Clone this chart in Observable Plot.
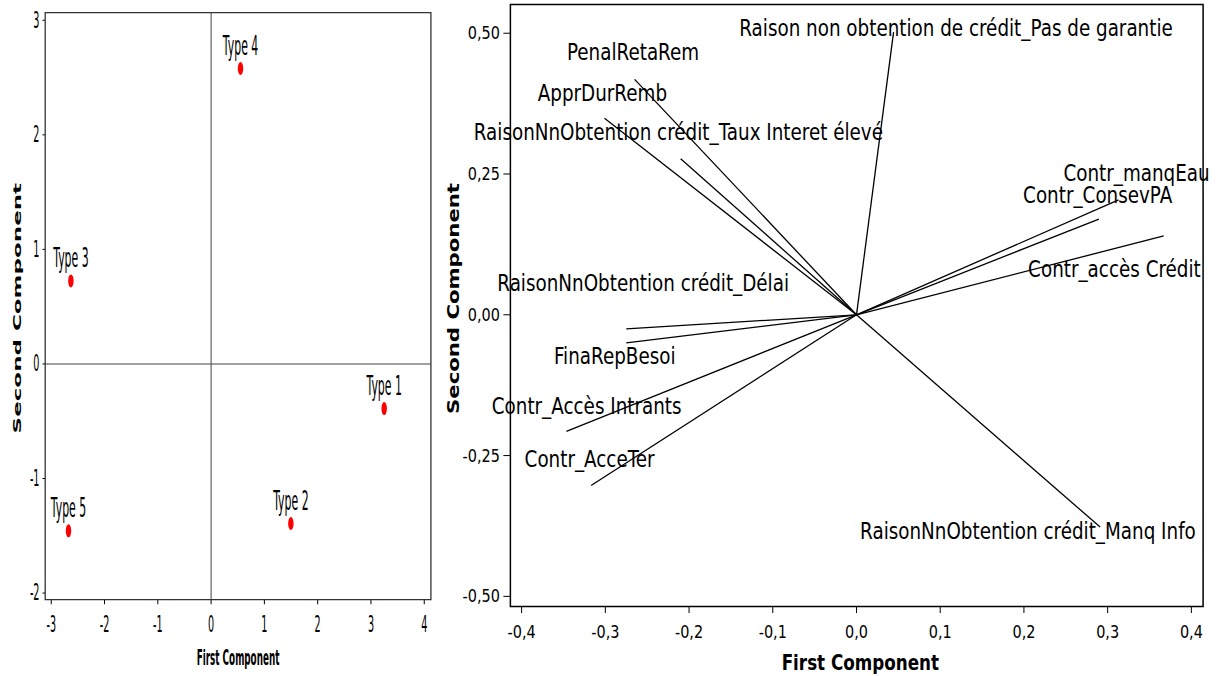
<!DOCTYPE html>
<html>
<head>
<meta charset="utf-8">
<script src="https://cdn.jsdelivr.net/npm/d3@7"></script>
<script src="https://cdn.jsdelivr.net/npm/@observablehq/plot@0.6"></script>
<style>
html, body { margin: 0; padding: 0; background: #fff; }
#chart { position: relative; width: 1217px; height: 676px; background: #fff; overflow: hidden; }
#chart svg { position: absolute; top: 0; }
#chart svg line, #chart svg path, #chart svg rect { vector-effect: non-scaling-stroke; }
</style>
</head>
<body>
<div id="chart"></div>
<script>
// ---- Left panel: score plot ----
const types  = ["Type 1", "Type 2", "Type 3", "Type 4", "Type 5"];
const scoreX = [3.248, 1.497, -2.631, 0.552, -2.676];
const scoreY = [-0.390, -1.393, 0.725, 2.579, -1.457];
const leftXTicks = [-3, -2, -1, 0, 1, 2, 3, 4];
const leftYTicks = [-2, -1, 0, 1, 2, 3];

// ---- Right panel: loading plot ----
const varNames = [
  "Raison non obtention de crédit_Pas de garantie",
  "PenalRetaRem",
  "ApprDurRemb",
  "RaisonNnObtention crédit_Taux Interet élevé",
  "Contr_manqEau",
  "Contr_ConsevPA",
  "Contr_accès Crédit",
  "RaisonNnObtention crédit_Délai",
  "FinaRepBesoi",
  "Contr_Accès Intrants",
  "Contr_AcceTer",
  "RaisonNnObtention crédit_Manq Info"
];
const loadX = [0.0443, -0.265, -0.301, -0.210, 0.313, 0.2895, 0.367, -0.275, -0.275, -0.3465, -0.317, 0.291];
const loadY = [0.502, 0.418, 0.349, 0.277, 0.204, 0.170, 0.140, -0.025, -0.050, -0.207, -0.303, -0.377];
// label anchor coordinates (data units), as placed in the original chart
const labelX = [0.1189, -0.2669, -0.3035, -0.2128, 0.3345, 0.2881, 0.3081, -0.2548, -0.2888, -0.3223, -0.3188, 0.2048];
const labelY = [0.5092, 0.4650, 0.3938, 0.3242, 0.2505, 0.2120, 0.0801, 0.0550, -0.0737, -0.1625, -0.2573, -0.3851];
const rightXTicks = [-0.4, -0.3, -0.2, -0.1, 0, 0.1, 0.2, 0.3, 0.4];
const rightYTicks = [-0.5, -0.25, 0, 0.25, 0.5];

const scores = types.map((t, i) => ({type: t, x: scoreX[i], y: scoreY[i]}));
const loadings = varNames.map((n, i) => ({name: n, x: loadX[i], y: loadY[i], lx: labelX[i], ly: labelY[i]}));

const H = 676;
const leftW = 440, leftSx = 0.42, leftInnerW = Math.round(leftW / leftSx);
const rightW = 777, rightSx = 0.78, rightInnerW = Math.round(rightW / rightSx);
const lsx = leftW / leftInnerW, rsx = rightW / rightInnerW;

const left = Plot.plot({
  width: leftInnerW,
  height: H,
  marginLeft: 45 / lsx,
  marginRight: 9.3 / lsx,
  marginTop: 12.1,
  marginBottom: 76.8,
  style: {fontFamily: "DejaVu Sans", fontSize: "23px", color: "#000", background: "#fff"},
  x: {domain: [-3.113, 4.125], ticks: leftXTicks, tickFormat: d => String(d), tickSize: 5, tickPadding: 11, label: null},
  y: {domain: [-2.058, 3.067], ticks: leftYTicks, tickFormat: d => String(d), tickSize: 6, tickPadding: 7.6, label: null},
  marks: [
    Plot.ruleX([0], {stroke: "#444", strokeWidth: 1}),
    Plot.ruleY([0], {stroke: "#444", strokeWidth: 1}),
    Plot.frame({stroke: "#333", strokeWidth: 1.3}),
    Plot.dot(scores, {x: "x", y: "y", r: 6.5, fill: "#ff0000", stroke: null}),
    Plot.text(scores, {x: "x", y: "y", text: "type", dy: -22, fontSize: 26, lineAnchor: "middle", textAnchor: "middle", fill: "#000"}),
    Plot.text(["First Component"], {text: d => d, frameAnchor: "bottom", dy: 58.5, fontSize: 21, fontWeight: "bold", lineAnchor: "middle", textAnchor: "middle", fill: "#000"}),
    Plot.text(["Second Component"], {text: d => d, frameAnchor: "left", dx: -66, dy: 2, rotate: -90, fontSize: 23, fontWeight: "bold", lineAnchor: "middle", textAnchor: "middle", fill: "#000"})
  ]
});

const right = Plot.plot({
  width: rightInnerW,
  height: H,
  marginLeft: 70 / rsx,
  marginRight: 14.3 / rsx,
  marginTop: 4,
  marginBottom: 70,
  style: {fontFamily: "DejaVu Sans", fontSize: "18.5px", color: "#000", background: "#fff"},
  x: {domain: [-0.4134, 0.414], ticks: rightXTicks, tickFormat: d => d.toFixed(1).replace(".", ","), tickSize: 7, tickPadding: 11, label: null},
  y: {domain: [-0.518, 0.551], ticks: rightYTicks, tickFormat: d => d.toFixed(2).replace(".", ","), tickSize: 8.5, tickPadding: 5, label: null},
  marks: [
    Plot.frame({stroke: "#000", strokeWidth: 1.5}),
    Plot.link(loadings, {x1: d => 0, y1: d => 0, x2: "x", y2: "y", stroke: "#000", strokeWidth: 1.3}),
    Plot.text(loadings, {x: "lx", y: "ly", text: "name", fontSize: 23.5, lineAnchor: "middle", textAnchor: "middle", fill: "#000"}),
    Plot.text(["First Component"], {text: d => d, frameAnchor: "bottom", dx: 4.6, dy: 57, fontSize: 21.5, fontWeight: "bold", lineAnchor: "middle", textAnchor: "middle", fill: "#000"}),
    Plot.text(["Second Component"], {text: d => d, frameAnchor: "left", dx: -73, dy: -7, rotate: -90, fontSize: 21.2, fontWeight: "bold", lineAnchor: "middle", textAnchor: "middle", fill: "#000"})
  ]
});

function place(svg, w, x) {
  svg.setAttribute("preserveAspectRatio", "none");
  svg.setAttribute("width", w);
  svg.setAttribute("height", H);
  svg.style.width = w + "px";
  svg.style.height = H + "px";
  svg.style.maxWidth = "none";
  svg.style.left = x + "px";
  svg.style.overflow = "visible";
}
place(left, leftW, 0);
place(right, rightW, 440);
const chart = document.getElementById("chart");
chart.appendChild(left);
chart.appendChild(right);
</script>
</body>
</html>
